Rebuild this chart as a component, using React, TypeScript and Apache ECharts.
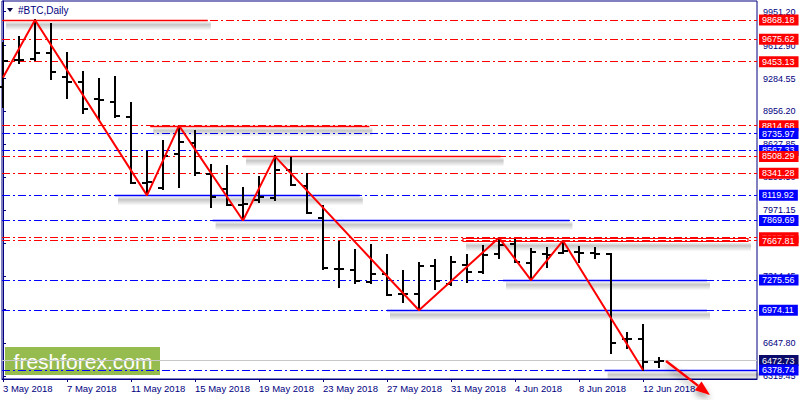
import { useEffect, useRef } from "react";
import * as echarts from "echarts";

// ---------- data ----------
const categories = [
  "3 May 2018", "4 May 2018", "5 May 2018", "6 May 2018", "7 May 2018", "8 May 2018", "9 May 2018",
  "10 May 2018", "11 May 2018", "12 May 2018", "13 May 2018", "14 May 2018", "15 May 2018", "16 May 2018",
  "17 May 2018", "18 May 2018", "19 May 2018", "20 May 2018", "21 May 2018", "22 May 2018", "23 May 2018",
  "24 May 2018", "25 May 2018", "26 May 2018", "27 May 2018", "28 May 2018", "29 May 2018", "30 May 2018",
  "31 May 2018", "1 Jun 2018", "2 Jun 2018", "3 Jun 2018", "4 Jun 2018", "5 Jun 2018", "6 Jun 2018",
  "7 Jun 2018", "8 Jun 2018", "9 Jun 2018", "10 Jun 2018", "11 Jun 2018", "12 Jun 2018", "13 Jun 2018",
];
const opens = [
  9200, 9469, 9479, 9539, 9300, 9250, 9081, 9051, 8901, 8243, 8193, 8532, 8642, 8333, 8183, 8024, 8074, 8090,
  8373, 8213, 7894, 7386, 7376, 7256, 7336, 7136, 7136, 7416, 7236, 7426, 7356, 7535, 7635, 7446, 7535, 7545,
  7555, 7545, 7535, 6688, 6688, 6459,
];
const highs = [
  9639, 9699, 9868.18, 9828, 9539, 9350, 9280, 9300, 9041, 8552, 8662, 8814.68, 8762, 8423, 8413, 8193, 8303,
  8508.29, 8492, 8333, 8014, 7655, 7575, 7625, 7525, 7366, 7446, 7475, 7505, 7525, 7615, 7697.37, 7675, 7585,
  7595, 7667.81, 7605, 7595, 7535, 6748, 6827, 6498,
];
const lows = [
  9001, 9440, 9470, 9280, 9090, 8941, 8881, 8901, 8243, 8119.92, 8183, 8203, 8323, 8004, 8024, 7869.69, 8054,
  8074, 8223, 7944, 7386, 7206, 7246, 7246, 7126, 7057, 6974.11, 7186, 7226, 7256, 7346, 7495, 7455, 7275.56,
  7406, 7545, 7455, 7495, 6548, 6598, 6378.74, 6409,
];
const closes = [
  9459, 9465, 9539, 9350, 9250, 8981, 9071, 8911, 8243, 8253, 8512, 8652, 8343, 8104, 8024, 8030, 8100, 8373,
  8223, 7944, 7396, 7390, 7266, 7336, 7126, 7140, 7416, 7266, 7455, 7356, 7525, 7625, 7455, 7555, 7530, 7565,
  7550, 7540, 6648, 6685, 6459, 6472.73,
];

// zigzag pivots: [bar index, price]
const zigzag = [
  [0, 9295], [2, 9868.18], [9, 8119.92], [11, 8814.68], [15, 7869.69], [17, 8508.29],
  [26, 6974.11], [31, 7697.37], [33, 7275.56], [35, 7667.81], [40, 6378.74],
];

const redLevels = [9868.18, 9675.62, 9453.13, 8814.68, 8508.29, 8341.28, 7697.37, 7667.81];
const blueLevels = [8735.97, 8567.33, 8119.92, 7869.69, 7275.56, 6974.11, 6378.74];
const bidPrice = 6472.73;

// horizontal trend segments: [from bar, to bar, price]
const redSegments = [
  [0, 12.8, 9868.18],
  [9.2, 22.9, 8814.68],
  [15, 31.1, 8508.29],
];
const blueSegments = [
  [7, 22.3, 8119.92],
  [13.1, 35.4, 7869.69],
  [24, 44, 6974.11],
  [31.25, 44, 7275.56],
  [37.6, 47.1, 6378.74],
];
// rectangle zone: [from bar, to bar, top price, bottom price]
const zone = [28.75, 46.56, 7697.37, 7667.81];
// forecast arrow: [from bar, from price, to bar, to price]
const arrow = [41.44, 6468, 44.19, 6129];

const yTicks = [9951.2, 9612.9, 9284.55, 8956.2, 8627.85, 8299.5, 7971.15, 7642.8, 7314.45, 6986.1, 6647.8, 6319.45];
const xTicks = [0, 4, 8, 12, 16, 20, 24, 28, 32, 36, 40];

// ---------- style ----------
const NAVY = "#000080";
const RED = "#FF0000";
const BLUE = "#0000FF";
const FONT = "'Liberation Sans', Arial, sans-serif";
const Y_MIN = 6288.9;
const Y_MAX = 10057.6;
const X_MIN = -0.0625;
const X_MAX = 47.125;
const ARROW_SHADOW = { shadowBlur: 6, shadowColor: "rgba(0,0,0,0.4)", shadowOffsetY: 4 };

function shadowFill() {
  return new echarts.graphic.LinearGradient(0, 0, 0, 1, [
    { offset: 0, color: "rgba(0,0,0,0.04)" },
    { offset: 0.35, color: "rgba(0,0,0,0.22)" },
    { offset: 1, color: "rgba(0,0,0,0)" },
  ]);
}

function levelItem(v: number, color: string, lineColor: string, solid = false) {
  return {
    yAxis: v,
    lineStyle: { color: lineColor, width: 1, type: solid ? "solid" : [8, 3, 2, 3] },
    label: {
      show: true,
      position: "end",
      distance: 2,
      formatter: () => v.toFixed(2),
      color: "#fff",
      backgroundColor: color,
      padding: [1, 4, 0, 3],
      fontSize: 9,
      lineHeight: 10,
      fontFamily: FONT,
    },
  };
}

function segmentSeries(segs: number[][], color: string) {
  return {
    type: "custom",
    z: 2,
    silent: true,
    data: segs,
    encode: { x: [0, 1], y: 2 },
    renderItem: (_p: any, api: any) => {
      const a = api.coord([api.value(0), api.value(2)]);
      const b = api.coord([api.value(1), api.value(2)]);
      const y = Math.round(a[1]) + 0.5;
      return {
        type: "group",
        children: [
          { type: "rect", shape: { x: a[0] + 3, y: y + 1, width: b[0] - a[0], height: 9 }, style: { fill: shadowFill() } },
          { type: "line", shape: { x1: a[0], y1: y, x2: b[0], y2: y }, style: { stroke: color, lineWidth: 1.5 } },
        ],
      };
    },
  };
}

export default function App() {
  const ref = useRef<HTMLDivElement>(null);
  useEffect(() => {
    const chart = echarts.init(ref.current!, null, { renderer: "svg" });
    const levels = [
      ...redLevels.map((v) => ({ v, c: RED, l: RED, s: false })),
      ...blueLevels.map((v) => ({ v, c: BLUE, l: BLUE, s: false })),
      { v: bidPrice, c: "#0A0A6B", l: "#C8C8C8", s: true },
    ].sort((a, b) => b.v - a.v);

    const option: any = {
      animation: false,
      backgroundColor: "#fff",
      grid: { left: 2, right: 43, top: 1, bottom: 21, show: true, borderColor: NAVY, borderWidth: 1, backgroundColor: "#fff" },
      xAxis: {
        type: "value",
        min: X_MIN,
        max: X_MAX,
        axisLine: { show: true, lineStyle: { color: NAVY, width: 1 } },
        axisTick: { show: true, customValues: xTicks, length: 3, lineStyle: { color: NAVY } },
        axisLabel: {
          customValues: xTicks,
          formatter: (v: number) => categories[Math.round(v)] ?? "",
          align: "left",
          margin: 4,
          color: NAVY,
          fontSize: 9.5,
          fontFamily: FONT,
        },
        splitLine: { show: false },
      },
      yAxis: {
        type: "value",
        position: "right",
        min: Y_MIN,
        max: Y_MAX,
        axisLine: { show: true, lineStyle: { color: NAVY, width: 1 } },
        axisTick: { show: true, customValues: yTicks, length: 3, lineStyle: { color: NAVY } },
        axisLabel: {
          customValues: yTicks,
          formatter: (v: number) => v.toFixed(2),
          margin: 6,
          color: NAVY,
          fontSize: 9,
          fontFamily: FONT,
        },
        splitLine: { show: false },
      },
      series: [
        {
          type: "line",
          data: [],
          silent: true,
          z: 1,
          markLine: {
            silent: true,
            z: 1,
            symbol: ["none", "none"],
            animation: false,
            emphasis: { disabled: true },
            data: levels.map((l) => levelItem(l.v, l.c, l.l, l.s)),
          },
        },
        segmentSeries(redSegments, RED),
        segmentSeries(blueSegments, BLUE),
        {
          type: "custom",
          z: 2,
          silent: true,
          data: [zone],
          encode: { x: [0, 1], y: [2, 3] },
          renderItem: (_p: any, api: any) => {
            const a = api.coord([api.value(0), api.value(2)]);
            const b = api.coord([api.value(1), api.value(3)]);
            const y0 = Math.round(a[1]) + 0.5;
            const h = Math.round(b[1]) - Math.round(a[1]);
            return {
              type: "group",
              children: [
                { type: "rect", shape: { x: a[0] + 3, y: y0 + h + 1, width: b[0] - a[0], height: 9 }, style: { fill: shadowFill() } },
                {
                  type: "rect",
                  shape: { x: a[0], y: y0, width: b[0] - a[0], height: h },
                  style: { fill: "none", stroke: RED, lineWidth: 1.2 },
                },
              ],
            };
          },
        },
        {
          type: "custom",
          z: 3,
          silent: true,
          data: categories.map((_, i) => [i, opens[i], highs[i], lows[i], closes[i]]),
          encode: { x: 0, y: [1, 2, 3, 4] },
          renderItem: (_p: any, api: any) => {
            const x = api.value(0);
            const o = api.coord([x, api.value(1)]);
            const h = api.coord([x, api.value(2)]);
            const l = api.coord([x, api.value(3)]);
            const c = api.coord([x, api.value(4)]);
            const xx = Math.round(h[0]);
            const st = { stroke: "#000", lineWidth: 2 };
            return {
              type: "group",
              children: [
                { type: "line", shape: { x1: xx, y1: Math.round(h[1]) - 1, x2: xx, y2: Math.round(l[1]) + 1 }, style: st },
                { type: "line", shape: { x1: xx - 5, y1: Math.round(o[1]), x2: xx, y2: Math.round(o[1]) }, style: st },
                { type: "line", shape: { x1: xx, y1: Math.round(c[1]), x2: xx + 5, y2: Math.round(c[1]) }, style: st },
              ],
            };
          },
        },
        {
          type: "line",
          z: 4,
          silent: true,
          data: zigzag,
          symbol: "none",
          lineStyle: { color: RED, width: 2 },
        },
        {
          type: "custom",
          z: 5,
          silent: true,
          data: [arrow],
          encode: { x: [0, 2], y: [1, 3] },
          renderItem: (_p: any, api: any) => {
            const a = api.coord([api.value(0), api.value(1)]);
            const b = api.coord([api.value(2), api.value(3)]);
            const ang = Math.atan2(b[1] - a[1], b[0] - a[0]);
            const L = 15;
            const W = 5.5;
            const bx = b[0] - L * Math.cos(ang);
            const by = b[1] - L * Math.sin(ang);
            const p1 = [bx + W * Math.sin(ang), by - W * Math.cos(ang)];
            const p2 = [bx - W * Math.sin(ang), by + W * Math.cos(ang)];
            return {
              type: "group",
              children: [
                { type: "line", shape: { x1: a[0], y1: a[1], x2: bx, y2: by }, style: { stroke: RED, lineWidth: 2.5, ...ARROW_SHADOW } },
                { type: "polygon", shape: { points: [b, p1, p2] }, style: { fill: RED, ...ARROW_SHADOW } },
              ],
            };
          },
        },
      ],
      graphic: [
        { type: "polygon", z: 100, shape: { points: [[7, 8], [13, 8], [10, 12]] }, style: { fill: "#000040" } },
        { type: "text", z: 100, left: 18, top: 5, style: { text: "#BTC,Daily", fill: NAVY, font: `10px ${FONT}` } },
        {
          type: "group",
          z: 100,
          children: [
            { type: "rect", shape: { x: 5, y: 347, width: 155, height: 28 }, style: { fill: "rgba(139,180,60,0.9)" } },
            {
              type: "text",
              x: 83,
              y: 361,
              style: { text: "freshforex.com", fill: "#fff", font: `21px ${FONT}`, align: "center", verticalAlign: "middle" },
            },
          ],
        },
      ],
    };
    chart.setOption(option);
    return () => chart.dispose();
  }, []);
  return <div ref={ref} style={{ position: "absolute", left: 0, top: 0, width: 800, height: 400, background: "#fff" }} />;
}
